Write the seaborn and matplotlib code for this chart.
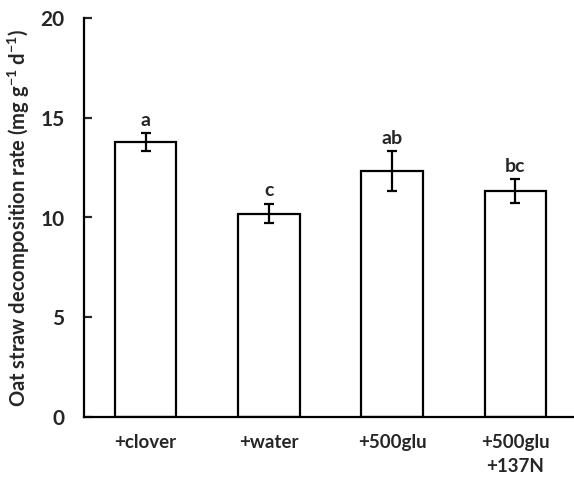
import matplotlib
matplotlib.use("Agg")
import matplotlib.pyplot as plt
import seaborn as sns
import pandas as pd

categories = ["+clover", "+water", "+500glu", "+500glu\n+137N"]
values = [13.77, 10.2, 12.32, 11.32]
errors = [0.45, 0.5, 1.0, 0.6]
letters = ["a", "c", "ab", "bc"]

sns.set_style("white")
plt.rcParams["font.family"] = ["Lato", "DejaVu Sans"]
plt.rcParams["font.weight"] = "bold"
plt.rcParams["mathtext.fontset"] = "custom"
plt.rcParams["mathtext.rm"] = "Lato:bold"
plt.rcParams["mathtext.bf"] = "Lato:bold"
plt.rcParams["mathtext.it"] = "Lato:bold"

df = pd.DataFrame({"treatment": categories, "rate": values})

fig = plt.figure(figsize=(5.74, 4.79), dpi=100)
ax = fig.add_axes([84/574, 62/479, 493/574, 399/479])

sns.barplot(data=df, x="treatment", y="rate", ax=ax, color="white",
            edgecolor="black", linewidth=1.6, width=0.5, errorbar=None,
            saturation=1)
ax.errorbar(range(len(values)), values, yerr=errors, fmt="none",
            ecolor="black", elinewidth=1.6, capsize=3.6, capthick=1.6)
for i, (v, e, l) in enumerate(zip(values, errors, letters)):
    ax.annotate(l, (i, v + e), xytext=(0, 3), textcoords="offset points",
                ha="center", va="bottom", fontsize=14, fontweight="bold")

ax.set_xlim(-0.5, 3.5)
ax.set_ylim(0, 20)
ax.set_yticks([0, 5, 10, 15, 20])
ax.set_xlabel("")
ax.set_ylabel("Oat straw decomposition rate (mg g$^{-1}$ d$^{-1}$)",
              fontsize=14.5, fontweight="bold", labelpad=6)
sns.despine(ax=ax)
for s in ["left", "bottom"]:
    ax.spines[s].set_linewidth(1.6)
    ax.spines[s].set_color("black")
ax.tick_params(axis="y", direction="in", length=6, width=1.6, pad=14,
               labelsize=15, left=True)
ax.tick_params(axis="x", length=0, pad=12, labelsize=13.5)
for t in ax.get_xticklabels():
    t.set_fontweight("bold")
    t.set_linespacing(1.5)
    t.set_verticalalignment("top")
for t in ax.get_yticklabels():
    t.set_fontweight("bold")

fig.savefig("out.png", dpi=100)
